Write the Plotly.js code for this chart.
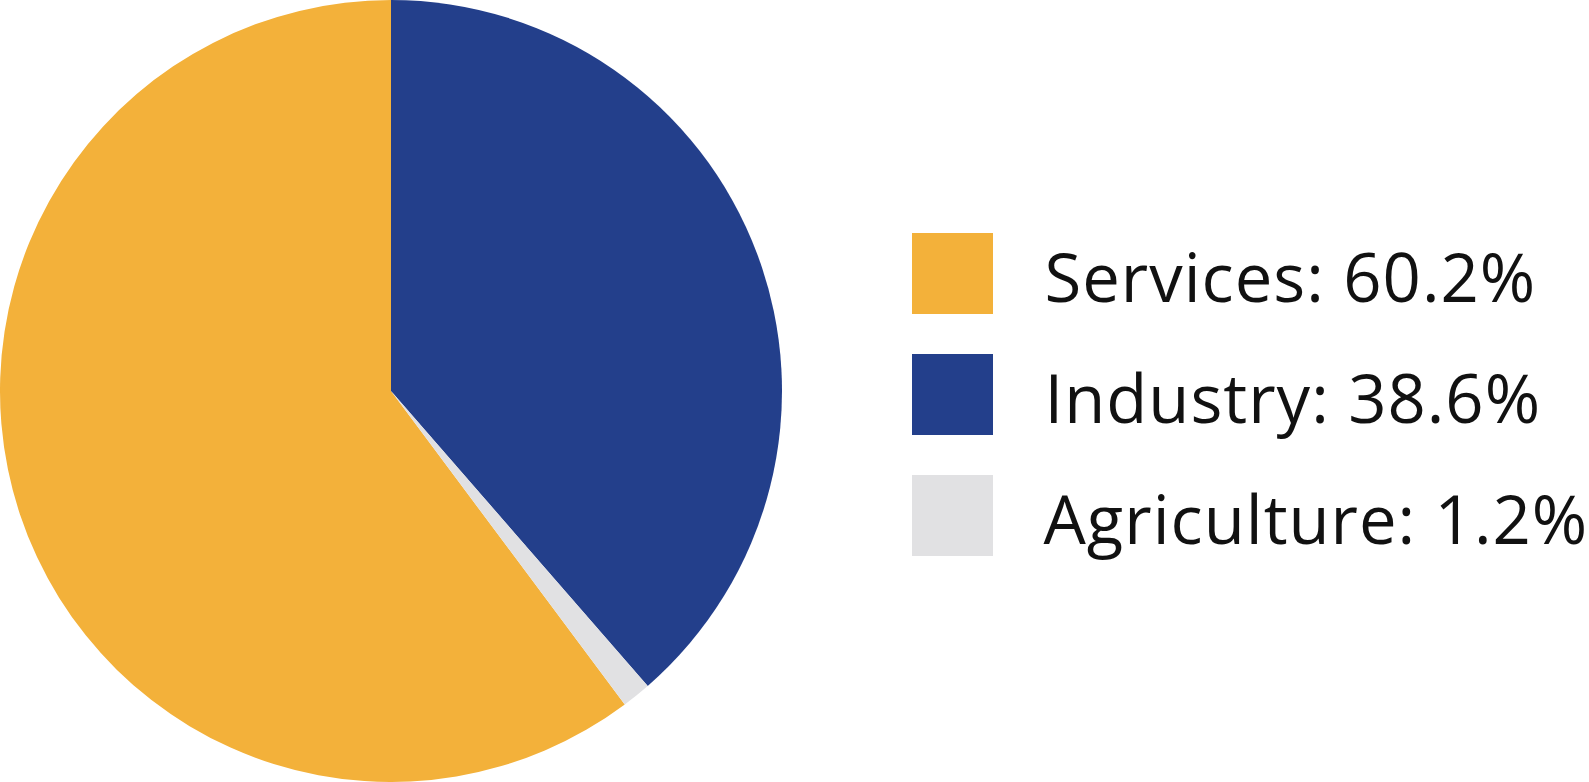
<!DOCTYPE html>
<html>
<head>
<meta charset="utf-8">
<script src="https://cdn.plot.ly/plotly-3.0.1.min.js"></script>
<style>html,body{margin:0;padding:0;background:#fff;}#chart{width:1589px;height:782px;}
#chart .annotation-text{letter-spacing:1px;}</style>
</head>
<body>
<div id="chart"></div>
<script>
const categories = ['Services', 'Industry', 'Agriculture'];
const values = [60.2, 38.6, 1.2];
const colors = ['#F3B13A', '#233F8B', '#E1E1E3'];

const W = 1589, H = 782;
const sqX0 = 912, sqSize = 81, sqY0 = 233, sqStep = 121, textX = 1050;

const shapes = [], annotations = [];
categories.forEach((c, i) => {
  const y0 = sqY0 + i * sqStep;
  shapes.push({
    type: 'rect', xref: 'paper', yref: 'paper',
    x0: sqX0 / W, x1: (sqX0 + sqSize) / W,
    y0: 1 - (y0 + sqSize) / H, y1: 1 - y0 / H,
    fillcolor: colors[i], line: {width: 0}
  });
  annotations.push({
    xref: 'paper', yref: 'paper',
    x: textX / W, y: 1 - (y0 + sqSize / 2 + 2) / H,
    xanchor: 'left', yanchor: 'middle', showarrow: false,
    text: c + ': ' + values[i].toFixed(1) + '%',
    font: {family: '"Open Sans", "Noto Sans", sans-serif', size: 67, color: '#111'}
  });
});

const industryAgri = values[1] + values[2];
Plotly.newPlot('chart', [{
  type: 'pie',
  labels: categories,
  values: values,
  sort: false,
  direction: 'clockwise',
  rotation: industryAgri / 100 * 360,
  marker: {colors: colors, line: {width: 0}},
  textinfo: 'none',
  hoverinfo: 'none',
  domain: {x: [0, 782 / W], y: [0, 1]}
}], {
  width: W, height: H,
  margin: {l: 0, r: 0, t: 0, b: 0},
  showlegend: false,
  paper_bgcolor: '#fff',
  shapes: shapes,
  annotations: annotations
}, {staticPlot: true});
</script>
</body>
</html>
